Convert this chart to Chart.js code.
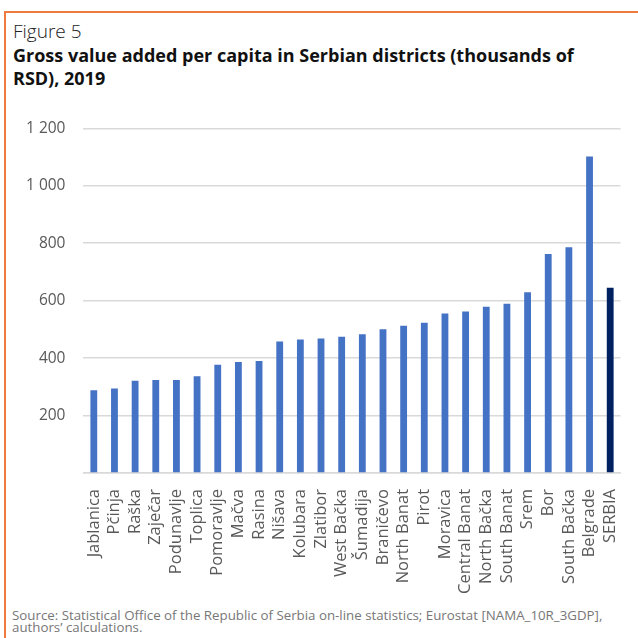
<!DOCTYPE html>
<html>
<head>
<meta charset="utf-8">
<script src="https://cdn.jsdelivr.net/npm/chart.js@4"></script>
<style>
  body { margin: 0; background: #fff; font-family: "Open Sans", sans-serif; }
  #frame { position: absolute; left: 4px; top: 11px; width: 640px; height: 640px;
           border-left: 2px solid #f07b3f; border-top: 2px solid #f07b3f; }
  #fig { position: absolute; left: 13px; top: 18px; font-size: 19px; font-weight: 300; color: #222; }
  #title { position: absolute; left: 13px; top: 44px; width: 600px; font-size: 18px; font-weight: 700;
           line-height: 23px; color: #111; }
  #wrap { position: absolute; left: 8px; top: 101px; width: 630px; height: 501px; }
  #source { position: absolute; left: 12px; top: 609px; font-size: 13.3px; line-height: 12px; color: #777; }
</style>
</head>
<body>
<div id="frame"></div>
<div id="fig">Figure 5</div>
<div id="title">Gross value added per capita in Serbian districts (thousands of RSD), 2019</div>
<div id="wrap"><canvas id="gvaChart"></canvas></div>
<div id="source">Source: Statistical Office of the Republic of Serbia on-line statistics; Eurostat [NAMA_10R_3GDP],<br>authors’ calculations.</div>
<script>
// Districts, sorted as in the figure
const districts = ['Jablanica', 'Pčinja', 'Raška', 'Zaječar', 'Podunavlje', 'Toplica', 'Pomoravlje',
    'Mačva', 'Rasina', 'Nišava', 'Kolubara', 'Zlatibor', 'West Bačka', 'Šumadija', 'Braničevo',
    'North Banat', 'Pirot', 'Moravica', 'Central Banat', 'North Bačka', 'South Banat', 'Srem',
    'Bor', 'South Bačka', 'Belgrade', 'SERBIA'];

// GVA per capita, thousands of RSD
const gvaValues = [288, 294, 321, 324, 324, 337, 377, 386, 390, 458, 465, 468, 474, 483, 500,
    513, 523, 555, 562, 579, 589, 629, 762, 786, 1102, 645];

const yTicks = [0, 200, 400, 600, 800, 1000, 1200];

const barColors = districts.map(d => d === 'SERBIA' ? '#002060' : '#4472c4');

function fmt(v) {
    if (v === 0) return '';
    return String(v).replace(/\B(?=(\d{3})+(?!\d))/g, ' ');
}

const ctx = document.getElementById('gvaChart').getContext('2d');
const gvaChart = new Chart(ctx, {
    type: 'bar',
    data: {
        labels: districts,
        datasets: [{
            data: gvaValues,
            backgroundColor: barColors,
            barPercentage: 0.66,
            categoryPercentage: 0.5
        }]
    },
    options: {
        responsive: true,
        maintainAspectRatio: false,
        animation: false,
        plugins: { legend: { display: false }, tooltip: { enabled: false } },
        layout: { padding: { top: 16, right: 0, left: 0, bottom: 0 } },
        scales: {
            x: {
                grid: { display: false },
                border: { color: '#d9d9d9', width: 1.5 },
                ticks: {
                    color: '#595959',
                    font: { family: 'Open Sans', size: 16.5 },
                    maxRotation: 90, minRotation: 90,
                    autoSkip: false, padding: 8
                }
            },
            y: {
                min: 0, max: 1200,
                afterBuildTicks: axis => { axis.ticks = yTicks.map(v => ({ value: v })); },
                grid: { color: '#d9d9d9', lineWidth: 1.5, drawTicks: false },
                border: { display: false },
                ticks: {
                    color: '#595959',
                    font: { family: 'Open Sans', size: 15.5 },
                    padding: 18,
                    callback: v => fmt(v)
                }
            }
        }
    }
});
</script>
</body>
</html>
